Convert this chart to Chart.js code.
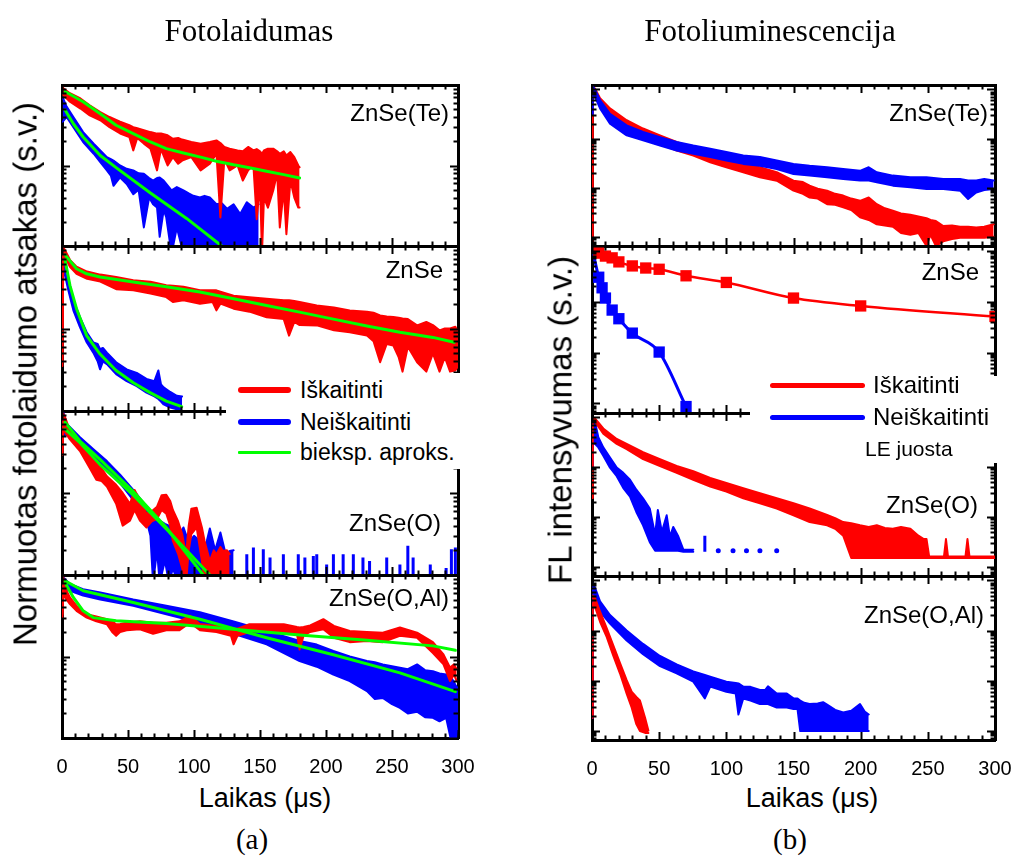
<!DOCTYPE html>
<html>
<head>
<meta charset="utf-8">
<script src="https://cdn.jsdelivr.net/npm/chart.js@4.4.1/dist/chart.umd.min.js"></script>
<style>
  html, body { margin: 0; padding: 0; background: #fff; }
  body { width: 1020px; height: 856px; position: relative; overflow: hidden;
         font-family: "Liberation Sans", Arial, sans-serif; color: #000; }
  canvas { position: absolute; }
  .t { position: absolute; white-space: nowrap; line-height: 1; transform: translate(-50%, -50%); z-index: 5; }
  .r { transform: translate(-100%, -50%); }
  .rot { transform: translate(-50%, -50%) rotate(-90deg); }
  .serif { font-family: "Liberation Serif", "Times New Roman", serif; }
  .legend { position: absolute; background: #fff; z-index: 4; }
  .key { position: absolute; z-index: 6; border-radius: 3px; }
</style>
</head>
<body>

<!-- column headings -->
<div class="t serif" style="left:249px;top:30px;font-size:31px">Fotolaidumas</div>
<div class="t serif" style="left:770px;top:30px;font-size:31px">Fotoliuminescencija</div>

<!-- axis titles -->
<div class="t rot" style="left:25px;top:374px;font-size:33px">Normuotas fotolaidumo atsakas (s.v.)</div>
<div class="t rot" style="left:560px;top:420px;font-size:33px">FL intensyvumas (s.v.)</div>
<div class="t" style="left:265px;top:798px;font-size:27px">Laikas (μs)</div>
<div class="t" style="left:812px;top:798px;font-size:27px">Laikas (μs)</div>
<div class="t serif" style="left:252px;top:839px;font-size:29px">(a)</div>
<div class="t serif" style="left:790px;top:839px;font-size:29px">(b)</div>

<!-- sample labels -->
<div class="t r" style="left:449px;top:113px;font-size:24px">ZnSe(Te)</div>
<div class="t r" style="left:443px;top:270px;font-size:24px">ZnSe</div>
<div class="t r" style="left:441px;top:523px;font-size:24px">ZnSe(O)</div>
<div class="t r" style="left:449px;top:598px;font-size:24px">ZnSe(O,Al)</div>
<div class="t r" style="left:988px;top:113px;font-size:24px">ZnSe(Te)</div>
<div class="t r" style="left:979px;top:272px;font-size:24px">ZnSe</div>
<div class="t r" style="left:978px;top:505px;font-size:24px">ZnSe(O)</div>
<div class="t r" style="left:984px;top:615px;font-size:24px">ZnSe(O,Al)</div>

<!-- legend, photoconductivity -->
<div class="legend" style="left:226px;top:373px;width:244px;height:96px"></div>
<div class="key" style="left:238px;top:387px;width:53px;height:6px;background:#ff0000"></div>
<div class="t" style="left:300px;top:390px;font-size:23px;transform:translate(0,-50%)">Iškaitinti</div>
<div class="key" style="left:238px;top:419px;width:53px;height:6px;background:#0000ff"></div>
<div class="t" style="left:300px;top:422px;font-size:23px;transform:translate(0,-50%)">Neiškaitinti</div>
<div class="key" style="left:238px;top:451px;width:53px;height:3px;background:#00ff00;border-radius:1px"></div>
<div class="t" style="left:300px;top:452px;font-size:23px;transform:translate(0,-50%)">bieksp. aproks.</div>

<!-- legend, photoluminescence -->
<div class="legend" style="left:750px;top:376px;width:260px;height:87px"></div>
<div class="key" style="left:770px;top:383px;width:95px;height:5px;background:#ff0000"></div>
<div class="t" style="left:873px;top:385px;font-size:24px;transform:translate(0,-50%)">Iškaitinti</div>
<div class="key" style="left:770px;top:415px;width:95px;height:5px;background:#0000ff"></div>
<div class="t" style="left:873px;top:417px;font-size:24px;transform:translate(0,-50%)">Neiškaitinti</div>
<div class="t" style="left:865px;top:448px;font-size:21px;transform:translate(0,-50%)">LE juosta</div>

<script>
// ---------------- axes ----------------
const timeTicks = [0, 50, 100, 150, 200, 250, 300];
const pcRange = [0.01, 1];        // photoconductivity panels, normalised
const flRange = [6.5e-4, 1.23];   // photoluminescence panels

// ---------------- (a) photoconductivity: ZnSe(Te) ----------------
const pcTeRedT  = [0.5, 1, 6, 14, 21, 29, 36, 44, 51, 54, 57, 62, 67, 72, 75, 80, 84, 88, 91, 98, 105, 112, 117, 120, 123, 127, 133, 137, 141, 145, 147.5, 150, 151.5, 153, 156, 160, 163, 165, 168, 170, 173, 176, 179, 180];
const pcTeRedHi = [0.95, 0.91, 0.79, 0.68, 0.56, 0.46, 0.40, 0.35, 0.316, 0.30, 0.29, 0.274, 0.26, 0.249, 0.25, 0.237, 0.215, 0.22, 0.21, 0.196, 0.187, 0.196, 0.205, 0.19, 0.17, 0.162, 0.154, 0.15, 0.17, 0.154, 0.16, 0.15, 0.14, 0.154, 0.162, 0.162, 0.15, 0.14, 0.15, 0.133, 0.147, 0.127, 0.10, 0.095];
const pcTeRedLo = [0.80, 0.75, 0.62, 0.51, 0.42, 0.365, 0.30, 0.25, 0.226, 0.154, 0.22, 0.187, 0.162, 0.087, 0.16, 0.10, 0.127, 0.105, 0.115, 0.127, 0.087, 0.105, 0.14, 0.0226, 0.12, 0.087, 0.10, 0.065, 0.087, 0.10, 0.0215, 0.06, 0.008, 0.04, 0.030, 0.049, 0.08, 0.017, 0.05, 0.014, 0.065, 0.04, 0.03, 0.03];
const pcTeBlueT  = [0.5, 3.5, 8.6, 16, 24, 29, 34, 37, 39, 44, 49, 54, 58, 62, 66, 69, 72, 74, 77, 79, 83, 87, 92, 96, 99.5, 104.5, 108, 112, 117, 121, 125, 130, 135, 140, 145, 149];
const pcTeBlueHi = [0.70, 0.54, 0.40, 0.26, 0.187, 0.154, 0.127, 0.12, 0.115, 0.10, 0.091, 0.087, 0.08, 0.079, 0.07, 0.065, 0.07, 0.071, 0.065, 0.059, 0.049, 0.054, 0.049, 0.045, 0.042, 0.040, 0.042, 0.040, 0.033, 0.034, 0.029, 0.033, 0.025, 0.035, 0.030, 0.033];
const pcTeBlueLo = [0.35, 0.40, 0.30, 0.196, 0.14, 0.11, 0.087, 0.075, 0.056, 0.071, 0.059, 0.044, 0.05, 0.017, 0.04, 0.033, 0.03, 0.013, 0.028, 0.0226, 0.008, 0.017, 0.008, 0.008, 0.008, 0.008, 0.008, 0.008, 0.008, 0.008, 0.008, 0.008, 0.008, 0.008, 0.008, 0.008];
const pcTeFitRedT  = [2.3, 16, 29, 41, 54, 67, 79, 92, 105, 117, 130, 142, 155, 168, 180];
const pcTeFitRed   = [0.83, 0.62, 0.44, 0.316, 0.249, 0.196, 0.162, 0.143, 0.127, 0.113, 0.102, 0.094, 0.085, 0.077, 0.070];
const pcTeFitBlueT = [2.3, 8.6, 16, 29, 41, 67, 94.4, 121, 130];
const pcTeFitBlue  = [0.49, 0.33, 0.226, 0.133, 0.094, 0.0455, 0.022, 0.010, 0.0079];

// ---------------- (a) ZnSe ----------------
const pcZnRedT  = [0.3, 1, 2.3, 6, 11, 19, 29, 41, 54, 67, 79, 84, 92, 104.5, 114, 117, 120, 130, 142, 155, 168, 172, 176, 180, 193, 206, 218, 231, 236, 241, 246, 251, 255, 258, 262, 269, 276, 281, 286, 290, 294, 298, 300];
const pcZnRedHi = [0.039, 0.95, 0.89, 0.68, 0.56, 0.49, 0.45, 0.42, 0.385, 0.37, 0.334, 0.33, 0.32, 0.29, 0.29, 0.29, 0.28, 0.25, 0.24, 0.23, 0.22, 0.22, 0.215, 0.21, 0.19, 0.18, 0.165, 0.16, 0.155, 0.144, 0.14, 0.138, 0.135, 0.132, 0.13, 0.109, 0.12, 0.11, 0.095, 0.10, 0.10, 0.105, 0.09];
const pcZnRedLo = [0.035, 0.85, 0.74, 0.56, 0.46, 0.40, 0.37, 0.30, 0.29, 0.265, 0.24, 0.21, 0.22, 0.20, 0.21, 0.166, 0.20, 0.174, 0.16, 0.137, 0.13, 0.082, 0.12, 0.11, 0.109, 0.095, 0.09, 0.082, 0.07, 0.039, 0.065, 0.062, 0.045, 0.03, 0.06, 0.039, 0.03, 0.05, 0.03, 0.045, 0.03, 0.031, 0.035];
const pcZnBlueT  = [0.3, 1, 2.3, 4.8, 8.6, 13.6, 18.7, 23.7, 27, 28.8, 31, 34, 41, 49, 56.6, 64, 70, 73, 75, 77, 82, 87, 91];
const pcZnBlueHi = [0.40, 0.92, 0.71, 0.40, 0.22, 0.137, 0.09, 0.068, 0.065, 0.056, 0.058, 0.051, 0.039, 0.032, 0.029, 0.0245, 0.023, 0.031, 0.021, 0.0193, 0.017, 0.0153, 0.015];
const pcZnBlueLo = [0.35, 0.50, 0.44, 0.29, 0.166, 0.104, 0.068, 0.051, 0.040, 0.032, 0.04, 0.037, 0.028, 0.023, 0.020, 0.0167, 0.015, 0.014, 0.013, 0.012, 0.011, 0.0105, 0.010];
const pcZnFitRedT  = [2.3, 11, 18.7, 28.8, 54, 79, 104.5, 130, 155, 180, 205.6, 231, 256, 281, 297];
const pcZnFitRed   = [0.78, 0.53, 0.46, 0.42, 0.367, 0.32, 0.277, 0.23, 0.19, 0.158, 0.13, 0.107, 0.09, 0.078, 0.068];
const pcZnFitBlueT = [2.3, 6, 11, 18.7, 28.8, 41, 54, 66.7, 79, 90.7];
const pcZnFitBlue  = [0.675, 0.334, 0.174, 0.082, 0.049, 0.031, 0.022, 0.0167, 0.0132, 0.0113];

// ---------------- (a) ZnSe(O) ----------------
const pcORedT  = [0.3, 1, 2.3, 6, 13.6, 21, 26, 30, 34, 41, 46, 51.5, 55, 59, 64, 68, 72, 75.5, 79, 82, 84, 88, 91, 94, 96, 98, 102, 106, 108, 112, 115, 117, 120, 122, 125, 127];
const pcORedHi = [0.31, 0.93, 0.84, 0.575, 0.43, 0.296, 0.233, 0.20, 0.16, 0.126, 0.10, 0.074, 0.109, 0.082, 0.056, 0.06, 0.068, 0.094, 0.095, 0.08, 0.062, 0.045, 0.0316, 0.0178, 0.04, 0.0645, 0.066, 0.038, 0.026, 0.0148, 0.02, 0.0178, 0.022, 0.0196, 0.02, 0.018];
const pcORedLo = [0.29, 0.60, 0.55, 0.45, 0.325, 0.202, 0.145, 0.14, 0.12, 0.074, 0.04, 0.046, 0.062, 0.046, 0.038, 0.045, 0.0485, 0.062, 0.056, 0.04, 0.026, 0.018, 0.0122, 0.008, 0.02, 0.0316, 0.038, 0.0148, 0.008, 0.008, 0.008, 0.008, 0.008, 0.008, 0.008, 0.008];
const pcOBlueT  = [0.3, 1, 3.5, 13.6, 24, 34, 44, 54, 64, 67, 69, 72, 74, 78, 81, 84, 88, 92, 96, 100, 104.5, 108, 112, 116, 120, 124, 127, 130];
const pcOBlueHi = [0.50, 0.97, 0.70, 0.48, 0.34, 0.245, 0.167, 0.109, 0.068, 0.06, 0.056, 0.05, 0.046, 0.042, 0.04, 0.038, 0.03, 0.038, 0.025, 0.03, 0.026, 0.02, 0.037, 0.02, 0.033, 0.018, 0.0196, 0.02];
const pcOBlueLo = [0.45, 0.50, 0.52, 0.375, 0.27, 0.193, 0.132, 0.082, 0.047, 0.03, 0.008, 0.02, 0.008, 0.015, 0.008, 0.012, 0.008, 0.008, 0.008, 0.008, 0.008, 0.008, 0.008, 0.008, 0.008, 0.008, 0.008, 0.008];
const pcOBlueSpikeT = [140, 145, 152.5, 157.6, 167.7, 179, 184, 190.4, 193, 200.5, 205.6, 213, 220.7, 228, 233, 246, 256, 262, 266, 279, 291, 295, 298];
const pcOBlueSpike  = [0.0179, 0.0216, 0.0206, 0.0163, 0.0179, 0.0179, 0.0163, 0.017, 0.0179, 0.0134, 0.0179, 0.0179, 0.0179, 0.0163, 0.0148, 0.0163, 0.0134, 0.0227, 0.0163, 0.0134, 0.0122, 0.0206, 0.0216];
const pcOFitRedT  = [2.3, 13.6, 28.8, 54, 79, 107, 112];
const pcOFitRed   = [0.73, 0.43, 0.257, 0.104, 0.038, 0.010, 0.0085];
const pcOFitBlueT = [2.3, 13.6, 28.8, 54, 79, 112, 118];
const pcOFitBlue  = [0.60, 0.41, 0.222, 0.094, 0.0365, 0.010, 0.0085];

// ---------------- (a) ZnSe(O,Al) ----------------
const pcOAlBlueT  = [0.3, 1, 6, 16, 29, 54, 79, 104.5, 130, 155, 180, 193, 205.6, 218, 231, 237, 243, 250, 256, 262, 269, 275, 281, 286, 291, 295, 298, 300];
const pcOAlBlueHi = [0.6, 0.93, 0.775, 0.67, 0.61, 0.50, 0.42, 0.35, 0.27, 0.206, 0.155, 0.14, 0.117, 0.10, 0.088, 0.085, 0.08, 0.076, 0.073, 0.07, 0.08, 0.068, 0.066, 0.062, 0.06, 0.055, 0.045, 0.04];
const pcOAlBlueLo = [0.5, 0.70, 0.64, 0.56, 0.50, 0.42, 0.33, 0.26, 0.19, 0.141, 0.088, 0.075, 0.060, 0.05, 0.0376, 0.03, 0.031, 0.026, 0.0234, 0.02, 0.021, 0.018, 0.0177, 0.016, 0.0177, 0.009, 0.008, 0.016];
const pcOAlRedT  = [0.3, 1, 2.3, 6, 11, 18.7, 26, 34, 38, 41, 44, 49, 59, 69, 79, 89, 97, 104.5, 117, 128, 130, 133, 142, 155, 168, 178, 180, 183, 188, 198, 206, 218, 231, 243, 256, 269, 281, 289, 294, 297, 299];
const pcOAlRedHi = [0.33, 0.94, 0.70, 0.53, 0.42, 0.33, 0.31, 0.287, 0.27, 0.249, 0.25, 0.26, 0.27, 0.26, 0.26, 0.27, 0.316, 0.25, 0.237, 0.22, 0.216, 0.22, 0.249, 0.249, 0.249, 0.23, 0.227, 0.23, 0.24, 0.287, 0.237, 0.206, 0.20, 0.196, 0.227, 0.196, 0.15, 0.106, 0.073, 0.08, 0.07];
const pcOAlRedLo = [0.30, 0.60, 0.53, 0.44, 0.363, 0.30, 0.27, 0.249, 0.20, 0.179, 0.20, 0.21, 0.216, 0.19, 0.21, 0.21, 0.26, 0.21, 0.20, 0.18, 0.141, 0.18, 0.20, 0.21, 0.19, 0.19, 0.122, 0.18, 0.20, 0.216, 0.17, 0.15, 0.155, 0.15, 0.18, 0.17, 0.11, 0.08, 0.05, 0.06, 0.05];
const pcOAlFitBlueT = [2.3, 16, 54, 104.5, 155, 205.6, 256, 298];
const pcOAlFitBlue  = [0.85, 0.64, 0.46, 0.287, 0.17, 0.105, 0.063, 0.037];
const pcOAlFitRedT  = [2.3, 8.6, 16, 23.7, 41, 79, 130, 180, 231, 281, 298];
const pcOAlFitRed   = [0.81, 0.53, 0.363, 0.30, 0.274, 0.254, 0.216, 0.184, 0.158, 0.135, 0.119];

// ---------------- (b) photoluminescence: ZnSe(Te) ----------------
const plTeRedT  = [0.2, 0.6, 2.2, 6, 13.4, 25.8, 38, 50.6, 63, 75.4, 88, 100, 112.6, 125, 137.5, 150, 157, 162, 168, 175, 181, 187, 193, 199.5, 206, 212, 218, 224, 230, 237, 243, 249, 252, 256, 261.5, 268, 274, 280, 286, 292, 299];
const plTeRedHi = [0.3, 1.1, 1.05, 0.66, 0.41, 0.236, 0.16, 0.116, 0.085, 0.065, 0.049, 0.041, 0.0305, 0.026, 0.0206, 0.0139, 0.013, 0.011, 0.0095, 0.0087, 0.0075, 0.0069, 0.006, 0.0054, 0.0063, 0.0046, 0.0038, 0.0034, 0.003, 0.0028, 0.0026, 0.0024, 0.0022, 0.0021, 0.00166, 0.0017, 0.0016, 0.0016, 0.00155, 0.0016, 0.0018];
const plTeRedLo = [0.0007, 0.8, 0.77, 0.48, 0.275, 0.16, 0.107, 0.078, 0.057, 0.045, 0.033, 0.026, 0.0206, 0.0163, 0.0139, 0.0087, 0.0075, 0.0063, 0.006, 0.0046, 0.0045, 0.004, 0.0035, 0.0025, 0.0022, 0.0018, 0.0017, 0.0016, 0.0012, 0.0011, 0.0012, 0.00065, 0.0011, 0.00065, 0.00081, 0.0009, 0.00096, 0.00096, 0.00096, 0.00096, 0.001];
const plTeBlueT  = [0.2, 0.6, 2.2, 6, 13.4, 25.8, 38, 50.6, 63, 75.4, 88, 100, 112.6, 125, 137.5, 150, 162, 175, 187, 199.5, 206, 212, 224, 237, 249, 261.5, 274, 280, 286, 292, 299];
const plTeBlueHi = [0.9, 1.14, 1.0, 0.61, 0.32, 0.186, 0.136, 0.107, 0.085, 0.072, 0.062, 0.053, 0.045, 0.042, 0.0357, 0.0305, 0.028, 0.026, 0.024, 0.022, 0.026, 0.0206, 0.0176, 0.0163, 0.0163, 0.015, 0.015, 0.014, 0.014, 0.015, 0.014];
const plTeBlueLo = [0.3, 0.8, 0.71, 0.41, 0.20, 0.116, 0.092, 0.072, 0.057, 0.049, 0.042, 0.0357, 0.0305, 0.028, 0.024, 0.019, 0.0176, 0.0163, 0.015, 0.014, 0.014, 0.0129, 0.011, 0.0102, 0.0094, 0.0094, 0.0087, 0.0059, 0.008, 0.009, 0.0094];

// ---------------- (b) ZnSe ----------------
const plZnRedT  = [0.5, 5, 10, 15, 20, 30, 40, 50, 70, 100, 150, 200, 300];
const plZnRed   = [1.0, 0.89, 0.78, 0.72, 0.60, 0.50, 0.455, 0.43, 0.32, 0.237, 0.117, 0.082, 0.051];
const plZnBlueT = [0.5, 5, 7.5, 10, 15, 20, 30, 50, 70];
const plZnBlue  = [1.0, 0.30, 0.186, 0.117, 0.068, 0.046, 0.024, 0.0102, 0.00087];

// ---------------- (b) ZnSe(O) ----------------
const plORedT  = [0.2, 0.6, 2.2, 8.4, 18.4, 25.8, 38, 50.6, 63, 75.4, 88, 100, 112.6, 125, 137.5, 150, 162, 175, 181, 187, 193, 199.5, 206, 212, 218, 224, 230, 237, 243, 247, 249, 251, 262, 263.5, 265, 278, 279.5, 281, 300];
const plORedHi = [0.4, 0.96, 0.957, 0.60, 0.37, 0.295, 0.20, 0.145, 0.106, 0.083, 0.061, 0.048, 0.038, 0.030, 0.0237, 0.0188, 0.0148, 0.011, 0.0095, 0.0079, 0.0075, 0.0068, 0.0063, 0.0068, 0.006, 0.0058, 0.0063, 0.0058, 0.0042, 0.0036, 0.0036, 0.0016, 0.0016, 0.0036, 0.0016, 0.0016, 0.0036, 0.0016, 0.0016];
const plORedLo = [0.024, 0.82, 0.82, 0.47, 0.295, 0.232, 0.145, 0.106, 0.077, 0.056, 0.041, 0.0325, 0.0237, 0.0188, 0.0148, 0.0108, 0.0079, 0.0068, 0.0058, 0.0042, 0.0015, 0.0015, 0.0015, 0.0015, 0.0015, 0.0015, 0.0015, 0.0015, 0.0015, 0.0015, 0.0015, 0.0015, 0.0015, 0.0015, 0.0015, 0.0015, 0.0015, 0.0015, 0.0015];
const plOBlueT  = [0.2, 0.6, 2.2, 4.7, 8.4, 13.4, 18.4, 23.3, 28.3, 33, 38, 43, 47, 49, 52, 55.6, 58, 60.5, 64, 68, 75.4];
const plOBlueHi = [0.9, 0.95, 0.82, 0.40, 0.25, 0.157, 0.098, 0.077, 0.056, 0.0353, 0.0237, 0.0148, 0.0044, 0.0138, 0.005, 0.0108, 0.004, 0.0063, 0.0042, 0.0022, 0.0022];
const plOBlueLo = [0.1, 0.5, 0.295, 0.25, 0.17, 0.098, 0.066, 0.038, 0.0257, 0.0126, 0.0068, 0.0031, 0.0021, 0.0021, 0.0021, 0.0021, 0.0021, 0.0021, 0.0021, 0.002, 0.002];
const plOBlueDotT = [94, 105, 115, 125, 137.5];
const plOBlueDot  = [0.0021, 0.0021, 0.0021, 0.0021, 0.0021];
const plOBlueSpikeT = [84];
const plOBlueSpike  = [0.0042];

// ---------------- (b) ZnSe(O,Al) ----------------
const plOAlBlueT  = [0.2, 0.6, 2.2, 6, 13.4, 25.8, 38, 50.6, 63, 75.4, 84, 88, 100, 107, 109, 112.6, 118, 125, 129, 131, 137.5, 145, 150, 153, 155, 158, 162, 168, 172, 175, 181, 187, 193, 199.5, 203, 206];
const plOAlBlueHi = [0.6, 0.9, 0.72, 0.385, 0.204, 0.10, 0.054, 0.031, 0.021, 0.0153, 0.013, 0.012, 0.0095, 0.009, 0.0088, 0.0076, 0.0075, 0.0065, 0.0065, 0.0077, 0.0055, 0.0055, 0.0044, 0.0044, 0.004, 0.0036, 0.0034, 0.0035, 0.0037, 0.0033, 0.0026, 0.0023, 0.0025, 0.0034, 0.0024, 0.0021];
const plOAlBlueLo = [0.0018, 0.5, 0.385, 0.24, 0.138, 0.063, 0.0336, 0.0195, 0.014, 0.0095, 0.0044, 0.0076, 0.006, 0.0055, 0.0021, 0.0044, 0.004, 0.0034, 0.0034, 0.0034, 0.0029, 0.0029, 0.0027, 0.0027, 0.00098, 0.00098, 0.00098, 0.00098, 0.00098, 0.00098, 0.00098, 0.00098, 0.00098, 0.00098, 0.00098, 0.00098];
const plOAlRedT  = [0.2, 0.6, 2.2, 6, 11, 15.9, 20.8, 25.8, 29.5, 33, 35.7, 39.5, 42];
const plOAlRedHi = [0.45, 0.5, 0.45, 0.24, 0.11, 0.05, 0.0227, 0.0102, 0.006, 0.0047, 0.004, 0.0018, 0.001];
const plOAlRedLo = [0.0018, 0.35, 0.30, 0.15, 0.074, 0.031, 0.014, 0.0055, 0.0029, 0.00135, 0.00098, 0.0009, 0.0009];

// ---------------- drawing helpers ----------------
const RED = '#ff0000', BLUE = '#0000ff', GREEN = '#00ff00';
const SANS = '"Liberation Sans", Arial, sans-serif';

function curve(t, v, color, width, extra) {
  return Object.assign({
    data: t.map((x, i) => ({ x, y: v[i] })),
    borderColor: color, backgroundColor: color, borderWidth: width,
    pointRadius: 0, fill: false, borderJoinStyle: 'round', borderCapStyle: 'round',
    xAxisID: 'x', yAxisID: 'y'
  }, extra || {});
}
// noisy trace drawn as the filled envelope between its upper and lower edge
function band(t, hi, lo, color) {
  return [curve(t, hi, color, 2), curve(t, lo, color, 2, { fill: '-1' })];
}
// isolated vertical noise spikes rising from a base level
function spikes(t, v, base, color, width) {
  const pts = [];
  t.forEach((x, i) => { pts.push({ x, y: base }, { x, y: v[i] }, { x, y: base }); });
  return { data: pts, borderColor: color, borderWidth: width, pointRadius: 0, fill: false, xAxisID: 'x', yAxisID: 'y' };
}

// inward tick marks on all four sides of a panel frame, plus the time labels under the bottom panels
const frameTicks = {
  id: 'frameTicks',
  afterDraw(chart, args, opts) {
    const { ctx, chartArea: a, scales } = chart;
    const xs = scales.x, ys = scales.y;
    ctx.save();
    ctx.strokeStyle = '#000';
    ctx.lineWidth = 2;
    ctx.beginPath();
    for (let v = xs.min; v <= xs.max; v += 10) {
      const px = Math.round(xs.getPixelForValue(v)) + 0.5;
      const L = (v % 50 === 0) ? 8 : 4.5;
      ctx.moveTo(px, a.top); ctx.lineTo(px, a.top + L);
      ctx.moveTo(px, a.bottom); ctx.lineTo(px, a.bottom - L);
    }
    const e0 = Math.floor(Math.log10(ys.min)), e1 = Math.ceil(Math.log10(ys.max));
    for (let e = e0; e <= e1; e++) {
      for (let m = 1; m <= 9; m++) {
        const v = m * Math.pow(10, e);
        if (v < ys.min * 0.999 || v > ys.max * 1.001) continue;
        const py = Math.round(ys.getPixelForValue(v)) + 0.5;
        const L = (m === 1) ? 8 : 4.5;
        ctx.moveTo(a.left, py); ctx.lineTo(a.left + L, py);
        ctx.moveTo(a.right, py); ctx.lineTo(a.right - L, py);
      }
    }
    ctx.stroke();
    if (opts.labels) {
      ctx.fillStyle = '#000';
      ctx.font = '20px ' + SANS;
      ctx.textAlign = 'center';
      ctx.textBaseline = 'middle';
      xs.ticks.forEach(tk => ctx.fillText(String(tk.value), xs.getPixelForValue(tk.value), a.bottom + 29));
    }
    ctx.restore();
  }
};

function panel(box, range, datasets, showTime) {
  const P = 40;
  const cv = document.createElement('canvas');
  cv.width = box.w + 2 * P;
  cv.height = box.h + 2 * P;
  cv.style.left = (box.x - P) + 'px';
  cv.style.top = (box.y - P) + 'px';
  document.body.appendChild(cv);
  const edge = { display: true, color: '#000', width: 3 };
  const noGrid = { display: false, drawTicks: false };
  const zeroH = s => { s.height = 0; };
  const zeroW = s => { s.width = 0; };
  new Chart(cv, {
    type: 'line',
    data: { datasets },
    options: {
      responsive: false, animation: false, devicePixelRatio: 1,
      layout: { padding: P },
      plugins: { legend: { display: false }, tooltip: { enabled: false }, frameTicks: { labels: showTime } },
      scales: {
        x: {
          type: 'linear', position: 'bottom', min: timeTicks[0], max: timeTicks[timeTicks.length - 1],
          grid: noGrid, border: edge,
          afterBuildTicks: s => { s.ticks = timeTicks.map(value => ({ value })); },
          ticks: { display: false },
          afterFit: zeroH
        },
        xTop: {
          type: 'linear', position: 'top', min: timeTicks[0], max: timeTicks[timeTicks.length - 1],
          grid: noGrid, border: edge, ticks: { display: false }, afterFit: zeroH
        },
        y: {
          type: 'logarithmic', position: 'left', min: range[0], max: range[1],
          grid: noGrid, border: edge, ticks: { display: false }, afterFit: zeroW
        },
        yRight: {
          type: 'logarithmic', position: 'right', min: range[0], max: range[1],
          grid: noGrid, border: edge, ticks: { display: false }, afterFit: zeroW
        }
      }
    },
    plugins: [frameTicks]
  });
}

// ---------------- panel layout ----------------
const leftEdges = [85, 246, 411, 575, 738];
const rightEdges = [85, 246, 413, 576, 740];
const L = i => ({ x: 62, y: leftEdges[i], w: 396, h: leftEdges[i + 1] - leftEdges[i] });
const R = i => ({ x: 592, y: rightEdges[i], w: 403, h: rightEdges[i + 1] - rightEdges[i] });

// (a) photoconductivity
panel(L(0), pcRange, [
  curve(pcTeFitRedT, pcTeFitRed, GREEN, 3),
  curve(pcTeFitBlueT, pcTeFitBlue, GREEN, 3),
  ...band(pcTeRedT, pcTeRedHi, pcTeRedLo, RED),
  ...band(pcTeBlueT, pcTeBlueHi, pcTeBlueLo, BLUE)
], false);

panel(L(1), pcRange, [
  curve(pcZnFitRedT, pcZnFitRed, GREEN, 3),
  curve(pcZnFitBlueT, pcZnFitBlue, GREEN, 3),
  ...band(pcZnRedT, pcZnRedHi, pcZnRedLo, RED),
  ...band(pcZnBlueT, pcZnBlueHi, pcZnBlueLo, BLUE)
], false);

panel(L(2), pcRange, [
  curve(pcOFitRedT, pcOFitRed, GREEN, 3),
  curve(pcOFitBlueT, pcOFitBlue, GREEN, 3),
  ...band(pcORedT, pcORedHi, pcORedLo, RED),
  ...band(pcOBlueT, pcOBlueHi, pcOBlueLo, BLUE),
  spikes(pcOBlueSpikeT, pcOBlueSpike, 0.005, BLUE, 3)
], false);

panel(L(3), pcRange, [
  curve(pcOAlFitRedT, pcOAlFitRed, GREEN, 3),
  curve(pcOAlFitBlueT, pcOAlFitBlue, GREEN, 3),
  ...band(pcOAlRedT, pcOAlRedHi, pcOAlRedLo, RED),
  ...band(pcOAlBlueT, pcOAlBlueHi, pcOAlBlueLo, BLUE)
], true);

// (b) photoluminescence
panel(R(0), flRange, [
  ...band(plTeBlueT, plTeBlueHi, plTeBlueLo, BLUE),
  ...band(plTeRedT, plTeRedHi, plTeRedLo, RED)
], false);

const markerRadius = t => t.map((x, i) => (i === 0 ? 0 : 8));
panel(R(1), flRange, [
  curve(plZnRedT, plZnRed, RED, 2.5, { pointStyle: 'rect', pointRadius: markerRadius(plZnRedT), pointBorderWidth: 0, cubicInterpolationMode: 'monotone' }),
  curve(plZnBlueT, plZnBlue, BLUE, 3, { pointStyle: 'rect', pointRadius: markerRadius(plZnBlueT), pointBorderWidth: 0, cubicInterpolationMode: 'monotone' })
], false);

panel(R(2), flRange, [
  ...band(plORedT, plORedHi, plORedLo, RED),
  ...band(plOBlueT, plOBlueHi, plOBlueLo, BLUE),
  curve(plOBlueDotT, plOBlueDot, BLUE, 0, { showLine: false, pointRadius: 2.5, pointBorderWidth: 0 }),
  spikes(plOBlueSpikeT, plOBlueSpike, 0.002, BLUE, 3)
], false);

panel(R(3), flRange, [
  ...band(plOAlRedT, plOAlRedHi, plOAlRedLo, RED),
  ...band(plOAlBlueT, plOAlBlueHi, plOAlBlueLo, BLUE)
], true);
</script>
</body>
</html>
